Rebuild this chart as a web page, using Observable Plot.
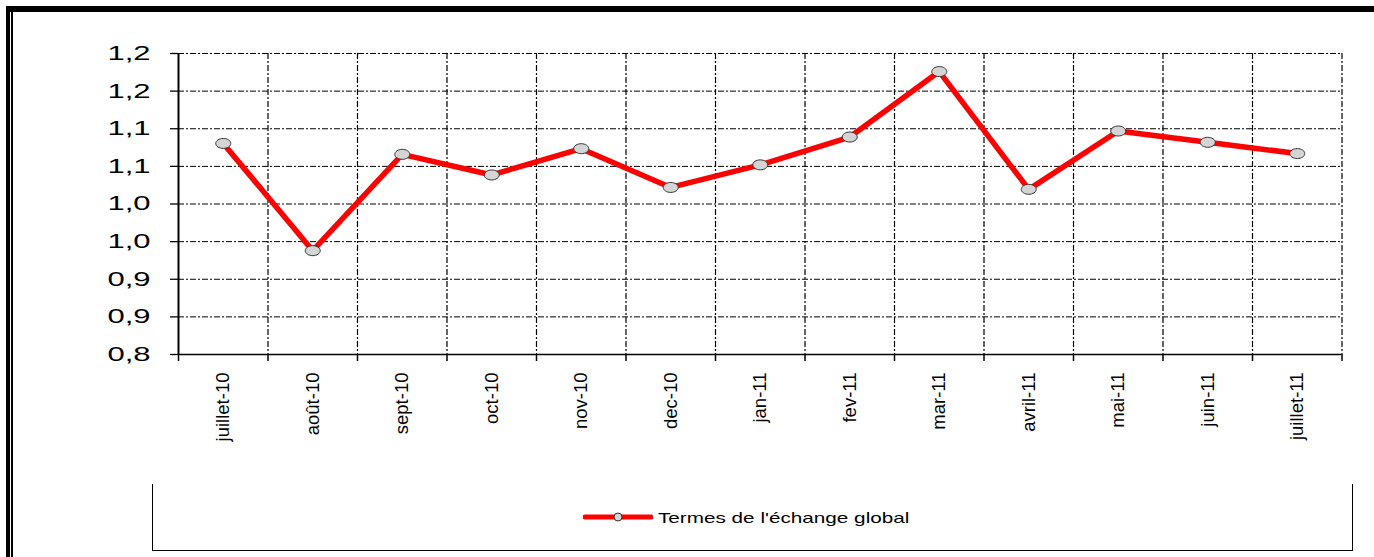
<!DOCTYPE html>
<html>
<head>
<meta charset="utf-8">
<script src="https://cdn.jsdelivr.net/npm/d3@7"></script>
<script src="https://cdn.jsdelivr.net/npm/@observablehq/plot@0.6"></script>
<style>
  html, body { margin: 0; padding: 0; background: #fff; }
  #wrap { position: relative; width: 1374px; height: 557px; overflow: hidden; background: #fff; }
  #chart { position: absolute; left: 0; top: 0; }
  .bar { position: absolute; background: #000; }
  #legend { position: absolute; left: 152px; top: 484px; width: 1199px; height: 66px;
            border-left: 1.5px solid #000; border-right: 1.5px solid #000; border-bottom: 1.5px solid #000; }
  #legend svg { position: absolute; left: 430px; top: 27px; }
  #legend .lab { position: absolute; left: 505px; top: 25px; font-family: "Liberation Sans", Arial, sans-serif;
                 font-size: 15px; color: #000; transform: scaleX(1.38); transform-origin: left center; white-space: nowrap; }
</style>
</head>
<body>
<div id="wrap">
  <div class="bar" style="left:6px;top:6px;width:1368px;height:6px;"></div>
  <div class="bar" style="left:6px;top:6px;width:4px;height:551px;"></div>
  <div class="bar" style="left:11px;top:12px;width:2px;height:545px;"></div>
  <div id="chart"></div>
  <div id="legend">
    <svg width="70" height="12"><line x1="2" y1="6" x2="68" y2="6" stroke="#ff0000" stroke-width="5" stroke-linecap="round"/><ellipse cx="35" cy="6" rx="4" ry="4" fill="#d4d4d4" stroke="#333" stroke-width="1"/></svg>
    <div class="lab">Termes de l'échange global</div>
  </div>
</div>
<script>
const months = ["juillet-10","août-10","sept-10","oct-10","nov-10","dec-10","jan-11","fev-11","mar-11","avril-11","mai-11","juin-11","juillet-11"];
const values = [1.0805, 0.938, 1.066, 1.0386, 1.0735, 1.022, 1.052, 1.089, 1.176, 1.0195, 1.097, 1.082, 1.067];
const yTicks = [0.80, 0.85, 0.90, 0.95, 1.00, 1.05, 1.10, 1.15, 1.20];
const yTickLabels = ["0,8","0,9","0,9","1,0","1,0","1,1","1,1","1,2","1,2"];

const data = months.map((m, i) => ({i, month: m, value: values[i]}));
const centers = months.map((m, i) => i);
const bounds = d3.range(months.length + 1).map(i => i - 0.5);

const ellipse = {
  draw(ctx, size) {
    const r = Math.sqrt(size / Math.PI);
    const rx = r * 1.5, ry = r, k = 0.5523;
    ctx.moveTo(rx, 0);
    ctx.bezierCurveTo(rx, ry * k, rx * k, ry, 0, ry);
    ctx.bezierCurveTo(-rx * k, ry, -rx, ry * k, -rx, 0);
    ctx.bezierCurveTo(-rx, -ry * k, -rx * k, -ry, 0, -ry);
    ctx.bezierCurveTo(rx * k, -ry, rx, -ry * k, rx, 0);
    ctx.closePath();
  }
};

const dash = "6,2,2,2";
const H = 460;
const chart = Plot.plot({
  width: 1374,
  height: H,
  marginLeft: 178,
  marginRight: 32.5,
  marginTop: 53,
  marginBottom: H - 354,
  style: {background: "transparent", fontFamily: "Liberation Sans, Arial, sans-serif", color: "#000"},
  x: {type: "linear", domain: [bounds[0], bounds[bounds.length - 1]]},
  y: {domain: [yTicks[0], yTicks[yTicks.length - 1]]},
  marks: [
    Plot.gridY(yTicks, {stroke: "#000", strokeOpacity: 1, strokeWidth: 1, strokeDasharray: dash}),
    Plot.gridX(bounds.slice(1), {stroke: "#000", strokeOpacity: 1, strokeWidth: 1.2, strokeDasharray: dash}),
    Plot.ruleX([bounds[0]], {stroke: "#000", strokeWidth: 2}),
    Plot.ruleY([yTicks[0]], {stroke: "#000", strokeWidth: 1.5}),
    Plot.axisY({ticks: yTicks, tickFormat: d => yTickLabels[yTicks.findIndex(t => Math.abs(t - d) < 1e-9)],
      tickSize: 8, tickPadding: 20, fontSize: 20, label: null, stroke: "#000", strokeWidth: 1.3, className: "yax"}),
    Plot.axisX({ticks: bounds, tickFormat: () => "", tickSize: 7, label: null, strokeWidth: 1.5}),
    Plot.axisX({ticks: centers, tickFormat: i => months[i], tickSize: 0, tickPadding: 18, tickRotate: -90,
      fontSize: 18.5, label: null, className: "xlab"}),
    Plot.line(data, {x: "i", y: "value", stroke: "#ff0000", strokeWidth: 5.5, strokeLinejoin: "round"}),
    Plot.dot(data, {x: "i", y: "value", symbol: ellipse, r: 5, fill: "#d4d4d4", fillOpacity: 1, stroke: "#333", strokeWidth: 1})
  ]
});
document.getElementById("chart").appendChild(chart);

// stretch y tick labels horizontally like the reference
chart.querySelectorAll("g.yax text, [aria-label='y-axis tick label'] text").forEach(t => {
  const len = t.getComputedTextLength();
  t.setAttribute("textLength", (len * 1.55).toFixed(1));
  t.setAttribute("lengthAdjust", "spacingAndGlyphs");
});
chart.querySelectorAll("g.xlab text, [aria-label='x-axis tick label'] text").forEach(t => {
  t.style.fontFamily = "'Liberation Sans Narrow', 'Liberation Sans', Arial, sans-serif";
});
</script>
</body>
</html>
